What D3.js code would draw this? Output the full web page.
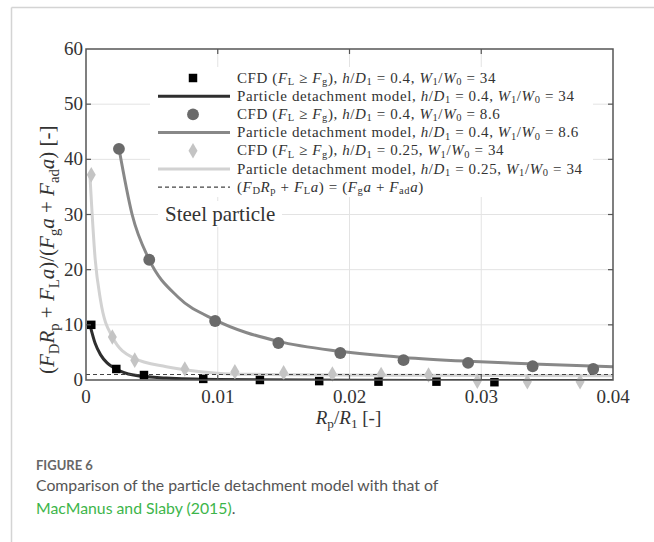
<!DOCTYPE html>
<html>
<head>
<script src="https://d3js.org/d3.v7.min.js"></script>
<style>
  body { margin: 0; background: #fff; }
  svg text { font-family: "Liberation Serif", serif; fill: #333; }
  .cap { font-family: Lato, "Open Sans", sans-serif; }
</style>
</head>
<body>
<div id="chart"></div>
<script>
// CFD squares, h/D1 = 0.4, W1/W0 = 34
var sqX = [0.0004, 0.0023, 0.0044, 0.0089, 0.0132, 0.0177, 0.0222, 0.0266, 0.0310];
var sqY = [10.0, 2.0, 0.9, 0.2, 0.0, -0.2, -0.3, -0.3, -0.4];
// CFD circles, h/D1 = 0.4, W1/W0 = 8.6
var ciX = [0.0025, 0.0048, 0.0098, 0.0146, 0.0193, 0.0241, 0.0290, 0.0339, 0.0385];
var ciY = [41.9, 21.8, 10.7, 6.7, 4.9, 3.6, 3.1, 2.5, 2.0];
// CFD diamonds, h/D1 = 0.25, W1/W0 = 34
var diX = [0.0004, 0.0020, 0.0037, 0.0075, 0.0113, 0.0150, 0.0187, 0.0224, 0.0260, 0.0297, 0.0335, 0.0375];
var diY = [37.2, 7.8, 3.6, 2.0, 1.5, 1.3, 1.1, 1.0, 0.9, -0.2, -0.3, -0.3];
// model curves
var m1X = [0.0003, 0.0007, 0.0011, 0.0016, 0.0022, 0.0036, 0.0061, 0.0100, 0.0200, 0.0300, 0.0400];
var m1Y = [10.0, 6.6, 4.6, 3.1, 2.1, 0.9, 0.35, 0.1, -0.05, -0.1, -0.1];
var m2X = [0.0025, 0.0035, 0.0048, 0.0070, 0.0098, 0.0146, 0.0193, 0.0241, 0.0290, 0.0339, 0.0400];
var m2Y = [42.0, 30.0, 21.8, 15.0, 10.9, 7.0, 5.2, 4.1, 3.4, 2.9, 2.4];
var m3X = [0.0003, 0.0007, 0.0011, 0.0020, 0.0036, 0.0061, 0.0087, 0.0110, 0.0160, 0.0250, 0.0400];
var m3Y = [37.0, 21.8, 14.5, 7.8, 4.0, 2.4, 1.5, 1.1, 0.95, 0.85, 0.75];
var limitY = 1;

var xTicks = [0, 0.01, 0.02, 0.03, 0.04];
var xTickLabels = ["0", "0.01", "0.02", "0.03", "0.04"];
var yTicks = [0, 10, 20, 30, 40, 50, 60];

var legendLabels = [
  "CFD ($F$_L ≥ $F$_g), $h$/$D$_1 = 0.4, $W$_1/$W$_0 = 34",
  "Particle detachment model, $h$/$D$_1 = 0.4, $W$_1/$W$_0 = 34",
  "CFD ($F$_L ≥ $F$_g), $h$/$D$_1 = 0.4, $W$_1/$W$_0 = 8.6",
  "Particle detachment model, $h$/$D$_1 = 0.4, $W$_1/$W$_0 = 8.6",
  "CFD ($F$_L ≥ $F$_g), $h$/$D$_1 = 0.25, $W$_1/$W$_0 = 34",
  "Particle detachment model, $h$/$D$_1 = 0.25, $W$_1/$W$_0 = 34",
  "($F$_D$R$_p + $F$_L$a$) = ($F$_g$a$ + $F$_{ad}$a$)"
];

var svg = d3.select("#chart").append("svg")
  .attr("width", 654).attr("height", 542);

// page frame
svg.append("line").attr("x1", 11.5).attr("x2", 654).attr("y1", 7.5).attr("y2", 7.5)
  .attr("stroke", "#d4d4d4").attr("stroke-width", 1.5);
svg.append("line").attr("x1", 11.5).attr("x2", 11.5).attr("y1", 7.5).attr("y2", 542)
  .attr("stroke", "#d4d4d4").attr("stroke-width", 1.5);

var x = d3.scaleLinear().domain([0, 0.04]).range([86, 613]);
var y = d3.scaleLinear().domain([0, 60]).range([380, 49]);

// writes "$F$_L" style mini-markup into a text element
function mathText(sel, str, sub) {
  sub = sub || 3;
  var re = /\$([^$]*)\$|_\{([^}]*)\}|_(.)|([^$_]+)/g, m, shift = 0;
  while ((m = re.exec(str)) !== null) {
    var t = sel.append("tspan");
    if (m[2] !== undefined || m[3] !== undefined) {
      t.text(m[2] !== undefined ? m[2] : m[3]).attr("dy", sub).style("font-size", "70%");
      shift = -sub;
    } else {
      t.text(m[1] !== undefined ? m[1] : m[4]);
      if (m[1] !== undefined) t.style("font-style", "italic");
      if (shift) { t.attr("dy", shift); shift = 0; }
    }
  }
}

// grid
svg.append("g").selectAll("line").data(xTicks.slice(1, -1)).join("line")
  .attr("x1", d => x(d)).attr("x2", d => x(d)).attr("y1", y(60)).attr("y2", y(0))
  .attr("stroke", "#e3e3e3").attr("stroke-width", 1);
svg.append("g").selectAll("line").data(yTicks.slice(1, -1)).join("line")
  .attr("y1", d => y(d)).attr("y2", d => y(d)).attr("x1", x(0)).attr("x2", x(0.04))
  .attr("stroke", "#e3e3e3").attr("stroke-width", 1);

// "Steel particle" label with white backing
svg.append("rect").attr("x", 158).attr("y", 201).attr("width", 124).attr("height", 26).attr("fill", "#fff");
svg.append("text").attr("x", 165).attr("y", 221).style("font-size", "21px").text("Steel particle");

svg.append("clipPath").attr("id", "plotclip").append("rect")
  .attr("x", 86).attr("y", 49).attr("width", 527).attr("height", 331);

var line = d3.line().x(d => x(d[0])).y(d => y(d[1])).curve(d3.curveMonotoneX);
var plot = svg.append("g").attr("clip-path", "url(#plotclip)");

plot.append("path").datum(d3.zip(m3X, m3Y)).attr("d", line)
  .attr("fill", "none").attr("stroke", "#d2d2d2").attr("stroke-width", 3);
plot.append("path").datum(d3.zip(m2X, m2Y)).attr("d", line)
  .attr("fill", "none").attr("stroke", "#888").attr("stroke-width", 3);
plot.append("path").datum(d3.zip(m1X, m1Y)).attr("d", line)
  .attr("fill", "none").attr("stroke", "#2e2e2e").attr("stroke-width", 3);
plot.append("line").attr("x1", x(0)).attr("x2", x(0.04)).attr("y1", y(limitY)).attr("y2", y(limitY))
  .attr("stroke", "#444").attr("stroke-width", 1.2).attr("stroke-dasharray", "4,3");

var sym = {
  sq: d3.symbol().type(d3.symbolSquare).size(72),
  ci: d3.symbol().type(d3.symbolCircle).size(110),
  di: d3.symbol().type(d3.symbolDiamond).size(70)
};

svg.append("g").selectAll("path").data(d3.zip(diX, diY)).join("path")
  .attr("d", sym.di).attr("fill", "#c4c4c4")
  .attr("transform", d => "translate(" + x(d[0]) + "," + y(d[1]) + ")");
svg.append("g").selectAll("path").data(d3.zip(ciX, ciY)).join("path")
  .attr("d", sym.ci).attr("fill", "#6a6a6a")
  .attr("transform", d => "translate(" + x(d[0]) + "," + y(d[1]) + ")");
svg.append("g").selectAll("path").data(d3.zip(sqX, sqY)).join("path")
  .attr("d", sym.sq).attr("fill", "#000")
  .attr("transform", d => "translate(" + x(d[0]) + "," + y(d[1]) + ")");

// box + inward ticks
var axCol = "#555";
svg.append("rect").attr("x", 86).attr("y", 49).attr("width", 527).attr("height", 331)
  .attr("fill", "none").attr("stroke", axCol).attr("stroke-width", 1.5);
var tk = svg.append("g").attr("stroke", axCol).attr("stroke-width", 1.2);
xTicks.slice(1, -1).forEach(function (d) {
  tk.append("line").attr("x1", x(d)).attr("x2", x(d)).attr("y1", y(0)).attr("y2", y(0) - 5);
  tk.append("line").attr("x1", x(d)).attr("x2", x(d)).attr("y1", y(60)).attr("y2", y(60) + 5);
});
yTicks.slice(1, -1).forEach(function (d) {
  tk.append("line").attr("y1", y(d)).attr("y2", y(d)).attr("x1", x(0)).attr("x2", x(0) + 5);
  tk.append("line").attr("y1", y(d)).attr("y2", y(d)).attr("x1", x(0.04)).attr("x2", x(0.04) - 5);
});

svg.append("g").selectAll("text").data(xTicks).join("text")
  .attr("x", d => x(d)).attr("y", 403).attr("text-anchor", "middle")
  .style("font-size", "19px").text((d, i) => xTickLabels[i]);
svg.append("g").selectAll("text").data(yTicks).join("text")
  .attr("x", 83).attr("y", d => y(d) + 6).attr("text-anchor", "end")
  .style("font-size", "19px").text(d => d);

// axis titles
var xl = svg.append("text").style("font-size", "19px");
mathText(xl, "$R$_p/$R$_1 [-]", 4);
var xlen = xl.node().getBBox().width;
xl.attr("x", 349 - xlen / 2).attr("y", 424);

// y title starts just above the 0 tick and runs upward
var yl = svg.append("text").attr("transform", "translate(54,374) rotate(-90)")
  .style("font-size", "21px");
mathText(yl, "($F$_D$R$_p + $F$_L$a$)/($F$_g$a$ + $F$_{ad}$a$) [-]", 4.5);

// legend
var lg = svg.append("g");
lg.append("rect").attr("x", 150).attr("y", 67).attr("width", 443).attr("height", 130).attr("fill", "#fff");
var legendMarks = [
  {t: "sq", c: "#000"}, {t: "line", c: "#2e2e2e"},
  {t: "ci", c: "#6a6a6a"}, {t: "line", c: "#888"},
  {t: "di", c: "#c4c4c4"}, {t: "line", c: "#d2d2d2"},
  {t: "dash", c: "#444"}
];
legendLabels.forEach(function (lab, i) {
  var ly = 78 + i * 18.2, mk = legendMarks[i];
  if (mk.t === "line") {
    lg.append("line").attr("x1", 158).attr("x2", 230).attr("y1", ly).attr("y2", ly)
      .attr("stroke", mk.c).attr("stroke-width", 3);
  } else if (mk.t === "dash") {
    lg.append("line").attr("x1", 158).attr("x2", 230).attr("y1", ly).attr("y2", ly)
      .attr("stroke", mk.c).attr("stroke-width", 1.2).attr("stroke-dasharray", "4,3");
  } else {
    lg.append("path").attr("d", sym[mk.t]).attr("fill", mk.c)
      .attr("transform", "translate(193," + ly + ")");
  }
  var t = lg.append("text").attr("x", 237).attr("y", ly + 4.5)
    .style("font-size", "15px").style("letter-spacing", "0.6px");
  mathText(t, lab, 2.5);
});

// caption
svg.append("text").attr("class", "cap").attr("x", 36).attr("y", 470)
  .style("font-size", "13px").style("font-weight", "bold").style("fill", "#666").text("FIGURE 6");
svg.append("text").attr("class", "cap").attr("x", 36).attr("y", 491)
  .style("font-size", "15.8px").style("fill", "#555")
  .text("Comparison of the particle detachment model with that of");
var c2 = svg.append("text").attr("class", "cap").attr("x", 36).attr("y", 514).style("font-size", "15.8px");
c2.append("tspan").style("fill", "#3db54a").text("MacManus and Slaby (2015)");
c2.append("tspan").style("fill", "#555").text(".");
</script>
</body>
</html>
